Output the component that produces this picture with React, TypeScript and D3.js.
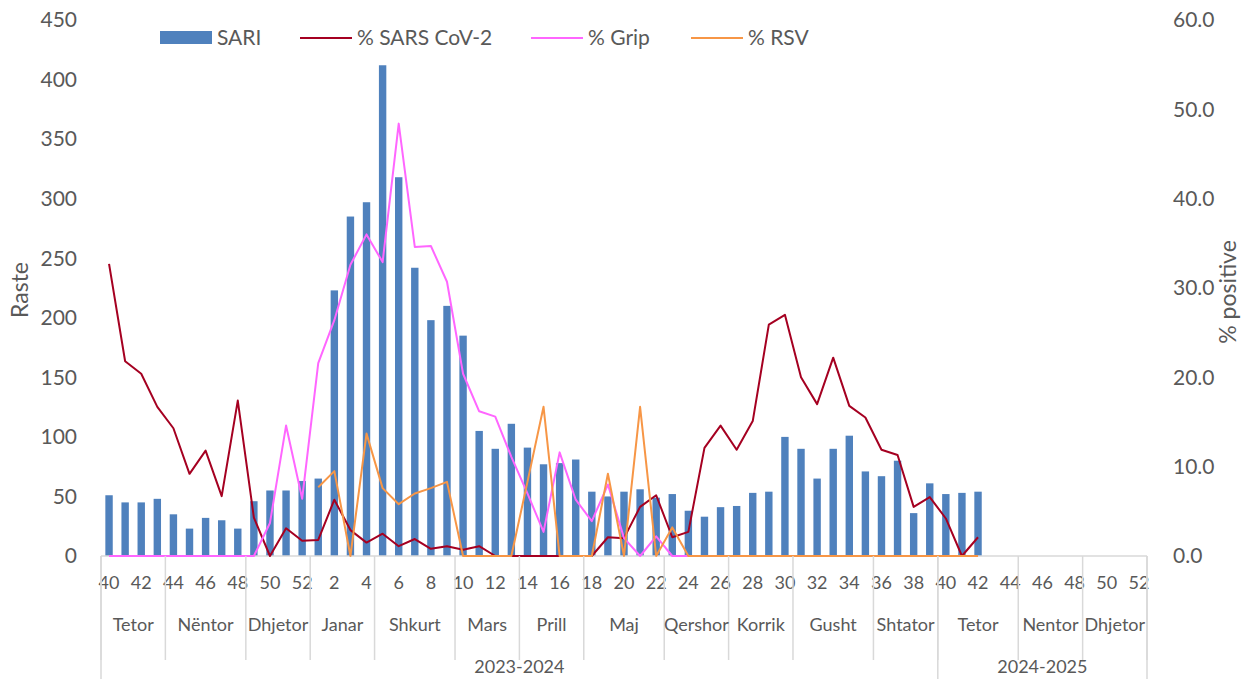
import React from "react";
import * as d3 from "d3";

// week labels: 2023-2024 season (wk40..wk39) + 2024-2025 (wk40..wk52)
const weeks: number[] = [
  40, 41, 42, 43, 44, 45, 46, 47, 48, 49, 50, 51, 52,
  1, 2, 3, 4, 5, 6, 7, 8, 9, 10, 11, 12, 13, 14, 15, 16, 17, 18, 19, 20,
  21, 22, 23, 24, 25, 26, 27, 28, 29, 30, 31, 32, 33, 34, 35, 36, 37, 38, 39,
  40, 41, 42, 43, 44, 45, 46, 47, 48, 49, 50, 51, 52,
];

const sari: (number | null)[] = [
  51, 45, 45, 48, 35, 23, 32, 30, 23, 46, 55, 55, 63,
  65, 223, 285, 297, 412, 318, 242, 198, 210, 185, 105, 90, 111, 91, 77, 78, 81, 54, 50, 54,
  56, 49, 52, 38, 33, 41, 42, 53, 54, 100, 90, 65, 90, 101, 71, 67, 80, 36, 61,
  52, 53, 54,
];

const sarsCov2: (number | null)[] = [
  32.7, 21.8, 20.4, 16.7, 14.3, 9.2, 11.8, 6.7, 17.4, 4.3, 0, 3.1, 1.7,
  1.8, 6.3, 2.9, 1.5, 2.5, 1.1, 1.9, 0.8, 1.1, 0.7, 1.1, 0, 0, 0, 0, 0, 0, 0, 2.1, 2.0,
  5.5, 6.8, 2.1, 2.7, 12.1, 14.6, 11.9, 15.1, 25.9, 27.0, 20.0, 17.0, 22.2, 16.8, 15.5, 11.9, 11.3, 5.5, 6.6,
  4.2, 0, 2.1,
];

const grip: (number | null)[] = [
  0, 0, 0, 0, 0, 0, 0, 0, 0, 0, 3.7, 14.6, 6.4,
  21.6, 26.4, 32.6, 36.0, 32.9, 48.4, 34.6, 34.7, 30.7, 20.4, 16.2, 15.6, 11.1, 7.0, 2.7, 11.6, 6.3, 3.9, 8.0, 2.0,
  0, 2.2, 0, 0, 0, 0, 0, 0, 0, 0, 0, 0, 0, 0, 0, 0, 0, 0, 0,
  0, 0, 0,
];

const rsv: (number | null)[] = [
  null, null, null, null, null, null, null, null, null, null, null, null, null,
  7.7, 9.5, 0, 13.7, 7.6, 5.8, 7.0, 7.6, 8.3, 0, 0, 0, 0, 8.3, 16.7, 0, 0, 0, 9.2, 0,
  16.7, 0, 3.2, 0, 0, 0, 0, 0, 0, 0, 0, 0, 0, 0, 0, 0, 0, 0, 0,
  0, 0, 0,
];

const months = ["Tetor", "Nëntor", "Dhjetor", "Janar", "Shkurt", "Mars", "Prill", "Maj", "Qershor", "Korrik", "Gusht", "Shtator", "Tetor", "Nentor", "Dhjetor"];
const monthWeeks = [4, 5, 4, 4, 5, 4, 4, 5, 4, 4, 5, 4, 5, 4, 4];
const seasons = ["2023-2024", "2024-2025"];
const seasonWeeks = [52, 13];

const leftTicks = [0, 50, 100, 150, 200, 250, 300, 350, 400, 450];
const rightTicks = [0, 10, 20, 30, 40, 50, 60];

const FONT = "Lato, 'Open Sans', sans-serif";
const TXT = "#595959";
const GRID = "#d9d9d9";

const App = () => {
  const left = 101;
  const right = 1147;
  const top = 20;
  const base = 556;

  const x = d3
    .scaleBand<number>()
    .domain(weeks.map((_, i) => i))
    .range([left, right])
    .padding(0);
  const bw = x.bandwidth();
  const cx = (i: number) => (x(i) as number) + bw / 2;

  const yL = d3.scaleLinear().domain([0, 450]).range([base, top]);
  const yR = d3.scaleLinear().domain([0, 60]).range([base, top]);

  const line = d3
    .line<number | null>()
    .defined((d) => d != null)
    .x((_, i) => cx(i))
    .y((d) => yR(d as number));

  // boundaries
  const monthEdges: number[] = [0];
  monthWeeks.forEach((w) => monthEdges.push(monthEdges[monthEdges.length - 1] + w));
  const seasonEdges: number[] = [0];
  seasonWeeks.forEach((w) => seasonEdges.push(seasonEdges[seasonEdges.length - 1] + w));
  const edgeX = (k: number) => (k >= weeks.length ? right : (x(k) as number));

  const series = [
    { name: "% SARS CoV-2", data: sarsCov2, color: "#a50021" },
    { name: "% Grip", data: grip, color: "#ff66ff" },
    { name: "% RSV", data: rsv, color: "#f79646" },
  ];

  return (
    <svg
      width={1242}
      height={679}
      style={{ position: "absolute", left: 0, top: 0, background: "#fff" }}
      fontFamily={FONT}
    >
      {/* bars */}
      {sari.map((v, i) =>
        v == null ? null : (
          <rect
            key={i}
            x={cx(i) - bw * 0.23}
            width={bw * 0.46}
            y={yL(v)}
            height={base - yL(v)}
            fill="#4f81bd"
          />
        )
      )}

      {/* axis line */}
      <line x1={left} x2={right} y1={base} y2={base} stroke={GRID} strokeWidth={1.5} />

      {/* lines */}
      {series.map((s) => (
        <path
          key={s.name}
          d={line(s.data) || ""}
          fill="none"
          stroke={s.color}
          strokeWidth={2}
          strokeLinejoin="round"
        />
      ))}

      {/* left ticks */}
      {leftTicks.map((t) => (
        <text key={t} x={77} y={yL(t)} dy="0.35em" textAnchor="end" fontSize={21} fill={TXT}>
          {t}
        </text>
      ))}
      {/* right ticks */}
      {rightTicks.map((t) => (
        <text key={t} x={1173} y={yR(t)} dy="0.35em" textAnchor="start" fontSize={21} fill={TXT}>
          {t.toFixed(1)}
        </text>
      ))}

      <text
        transform={`translate(28,${(top + base) / 2 + 2}) rotate(-90)`}
        textAnchor="middle"
        fontSize={23}
        fill={TXT}
      >
        Raste
      </text>
      <text
        transform={`translate(1236,${(top + base) / 2 + 4}) rotate(-90)`}
        textAnchor="middle"
        fontSize={23}
        fill={TXT}
      >
        % positive
      </text>

      {/* week labels */}
      {weeks.map((w, i) =>
        i % 2 === 0 ? (
          <text key={i} x={cx(i)} y={589} textAnchor="middle" fontSize={18} fill={TXT}>
            {w}
          </text>
        ) : null
      )}

      {/* month separators + labels */}
      {monthEdges.map((k, j) => (
        <line key={j} x1={edgeX(k)} x2={edgeX(k)} y1={base} y2={660} stroke={GRID} strokeWidth={1.5} />
      ))}
      {months.map((m, j) => (
        <text
          key={j}
          x={(edgeX(monthEdges[j]) + edgeX(monthEdges[j + 1])) / 2}
          y={631}
          textAnchor="middle"
          fontSize={18}
          fill={TXT}
        >
          {m}
        </text>
      ))}

      {/* season separators + labels */}
      {seasonEdges.map((k, j) => (
        <line key={j} x1={edgeX(k)} x2={edgeX(k)} y1={base} y2={679} stroke={GRID} strokeWidth={1.5} />
      ))}
      {seasons.map((s, j) => (
        <text
          key={s}
          x={(edgeX(seasonEdges[j]) + edgeX(seasonEdges[j + 1])) / 2}
          y={673}
          textAnchor="middle"
          fontSize={18}
          fill={TXT}
        >
          {s}
        </text>
      ))}

      {/* legend */}
      <rect x={160} y={31} width={52} height={13} fill="#4f81bd" />
      <text x={217} y={38} dy="0.35em" fontSize={21} fill={TXT}>SARI</text>
      {series.map((s, j) => {
        const lx = [300, 531, 691][j];
        return (
          <g key={s.name}>
            <line x1={lx} x2={lx + 52} y1={38} y2={38} stroke={s.color} strokeWidth={2} />
            <text x={lx + 57} y={38} dy="0.35em" fontSize={21} fill={TXT}>
              {s.name}
            </text>
          </g>
        );
      })}
    </svg>
  );
};

export default App;
